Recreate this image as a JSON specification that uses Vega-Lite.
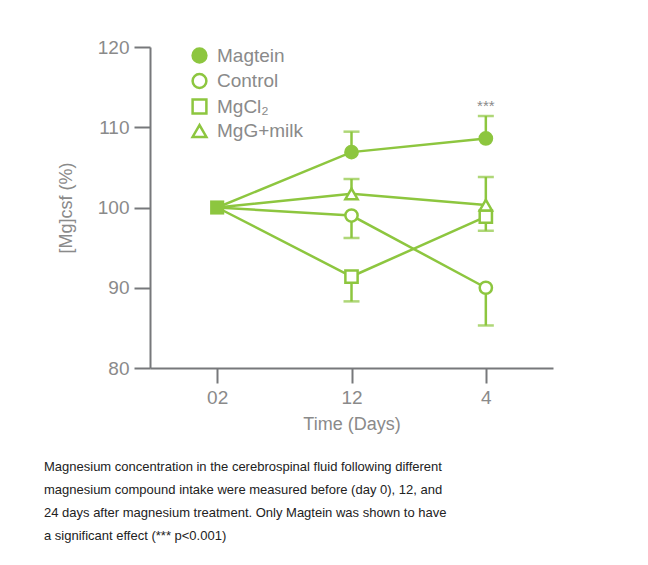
{
  "$schema": "https://vega.github.io/schema/vega-lite/v6.json",
  "width": 403,
  "height": 321,
  "autosize": "none",
  "padding": {"left": 150, "top": 47, "right": 95, "bottom": 197},
  "background": "white",
  "config": {
    "view": {"stroke": null},
    "font": "Liberation Sans"
  },
  "title": {
    "text": [
      "Magnesium concentration in the cerebrospinal fluid following different",
      "magnesium compound intake were measured before (day 0), 12, and",
      "24 days after magnesium treatment. Only Magtein was shown to have",
      "a significant effect (*** p<0.001)"
    ],
    "orient": "bottom",
    "anchor": "start",
    "frame": "group",
    "dx": -106,
    "offset": 28,
    "font": "Liberation Sans",
    "fontSize": 13,
    "fontWeight": "normal",
    "color": "#222222",
    "lineHeight": 23
  },
  "data": {
    "values": [
      {"series": "Magtein", "day": 0, "value": 100, "err": null, "sig": null},
      {"series": "Magtein", "day": 12, "value": 106.9, "err": 109.45, "sig": null},
      {"series": "Magtein", "day": 24, "value": 108.6, "err": 111.4, "sig": "***"},
      {"series": "Control", "day": 0, "value": 100, "err": null, "sig": null},
      {"series": "Control", "day": 12, "value": 99.0, "err": 96.2, "sig": null},
      {"series": "Control", "day": 24, "value": 90.0, "err": 85.3, "sig": null},
      {"series": "MgCl₂", "day": 0, "value": 100, "err": null, "sig": null},
      {"series": "MgCl₂", "day": 12, "value": 91.4, "err": 88.3, "sig": null},
      {"series": "MgCl₂", "day": 24, "value": 98.85, "err": 97.1, "sig": null},
      {"series": "MgG+milk", "day": 0, "value": 100, "err": null, "sig": null},
      {"series": "MgG+milk", "day": 12, "value": 101.7, "err": 103.55, "sig": null},
      {"series": "MgG+milk", "day": 24, "value": 100.3, "err": 103.8, "sig": null}
    ]
  },
  "encoding": {
    "x": {
      "field": "day",
      "type": "ordinal",
      "scale": {"type": "point", "padding": 0.5},
      "axis": {
        "title": "Time (Days)",
        "labelAngle": 0,
        "labelExpr": "datum.value == 0 ? '02' : datum.value == 12 ? '12' : '4'",
        "domainColor": "#77787b",
        "domainWidth": 2,
        "tickColor": "#77787b",
        "tickWidth": 2,
        "tickSize": 15,
        "labelPadding": 5,
        "labelFontSize": 19,
        "labelColor": "#8a8a8a",
        "titleFontSize": 18,
        "titleFontWeight": "normal",
        "titleColor": "#8a8a8a",
        "titlePadding": 8
      }
    },
    "y": {
      "field": "value",
      "type": "quantitative",
      "scale": {"domain": [80, 120]},
      "axis": {
        "title": "[Mg]csf (%)",
        "values": [80, 90, 100, 110, 120],
        "grid": false,
        "domainColor": "#77787b",
        "domainWidth": 2,
        "tickColor": "#77787b",
        "tickWidth": 2,
        "tickSize": 16,
        "labelPadding": 5,
        "labelFontSize": 19,
        "labelColor": "#8a8a8a",
        "titleFontSize": 18,
        "titleFontWeight": "normal",
        "titleColor": "#8a8a8a",
        "titlePadding": 22
      }
    }
  },
  "layer": [
    {
      "mark": {"type": "line", "color": "#8dc63f", "strokeWidth": 2.5},
      "encoding": {"detail": {"field": "series"}}
    },
    {
      "transform": [{"filter": "isValid(datum.err)"}],
      "mark": {"type": "rule", "color": "#8dc63f", "strokeWidth": 2.5},
      "encoding": {"y2": {"field": "err"}}
    },
    {
      "transform": [{"filter": "isValid(datum.err)"}],
      "mark": {"type": "tick", "color": "#8dc63f", "size": 16, "thickness": 2.5, "orient": "horizontal"},
      "encoding": {"y": {"field": "err", "type": "quantitative"}}
    },
    {
      "transform": [{"filter": "datum.day != 0"}],
      "mark": {"type": "point", "strokeWidth": 2.5, "size": 150, "opacity": 1},
      "encoding": {
        "shape": {
          "field": "series",
          "type": "nominal",
          "scale": {"domain": ["Magtein", "Control", "MgCl₂", "MgG+milk"], "range": ["circle", "circle", "square", "triangle-up"]},
          "legend": {
            "title": null,
            "orient": "none",
            "legendX": 40,
            "legendY": -1,
            "padding": 0,
            "symbolSize": 190,
            "symbolStrokeWidth": 2.5,
            "labelFontSize": 19,
            "labelColor": "#8a8a8a",
            "labelOffset": 8,
            "rowPadding": 0.5
          }
        },
        "fill": {
          "field": "series",
          "type": "nominal",
          "scale": {"domain": ["Magtein", "Control", "MgCl₂", "MgG+milk"], "range": ["#8dc63f", "#ffffff", "#ffffff", "#ffffff"]},
          "legend": {
            "title": null,
            "orient": "none",
            "legendX": 40,
            "legendY": -1,
            "padding": 0,
            "symbolSize": 190,
            "symbolStrokeWidth": 2.5,
            "labelFontSize": 19,
            "labelColor": "#8a8a8a",
            "labelOffset": 8,
            "rowPadding": 0.5
          }
        },
        "stroke": {
          "field": "series",
          "type": "nominal",
          "scale": {"domain": ["Magtein", "Control", "MgCl₂", "MgG+milk"], "range": ["#8dc63f", "#8dc63f", "#8dc63f", "#8dc63f"]},
          "legend": {
            "title": null,
            "orient": "none",
            "legendX": 40,
            "legendY": -1,
            "padding": 0,
            "symbolSize": 190,
            "symbolStrokeWidth": 2.5,
            "labelFontSize": 19,
            "labelColor": "#8a8a8a",
            "labelOffset": 8,
            "rowPadding": 0.5
          }
        }
      }
    },
    {
      "transform": [{"filter": "datum.day == 0 && datum.series == 'MgCl₂'"}],
      "mark": {"type": "square", "color": "#8dc63f", "filled": true, "size": 200, "opacity": 1}
    },
    {
      "transform": [{"filter": "isValid(datum.sig)"}],
      "mark": {"type": "text", "dy": -10, "fontSize": 15, "color": "#8a8a8a", "baseline": "middle"},
      "encoding": {
        "y": {"field": "err", "type": "quantitative"},
        "text": {"field": "sig"}
      }
    }
  ]
}
